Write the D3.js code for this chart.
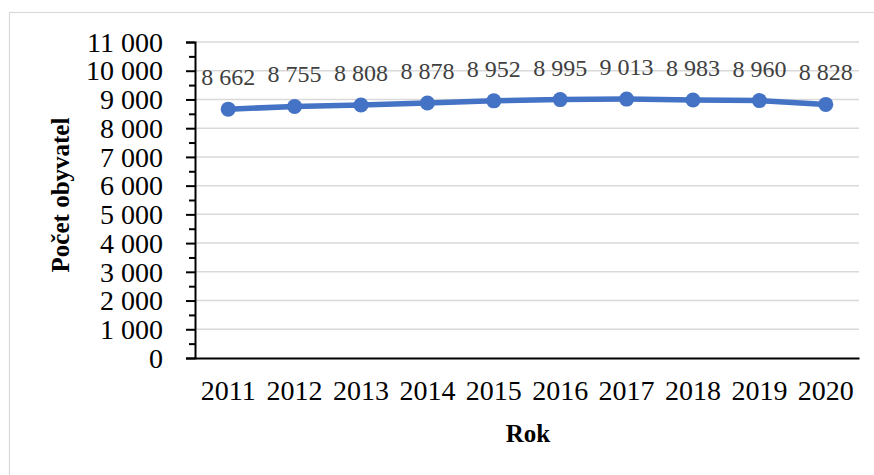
<!DOCTYPE html>
<html><head><meta charset="utf-8">
<script src="https://cdn.jsdelivr.net/npm/d3@7"></script>
<style>body{margin:0;background:#fff} text{font-family:"Liberation Serif","Times New Roman",serif}</style>
</head><body>
<svg id="c" width="874" height="475"></svg>
<script>
const years = ["2011","2012","2013","2014","2015","2016","2017","2018","2019","2020"];
const population = [8662, 8755, 8808, 8878, 8952, 8995, 9013, 8983, 8960, 8828];
const yTicks = [0,1000,2000,3000,4000,5000,6000,7000,8000,9000,10000,11000];
const yMinorTicks = d3.range(500, 11000, 1000);

const svg = d3.select("#c");
const fmt = v => d3.format(",")(v).replace(/,/g, " ");
const m = {l:195, r:859, t:42, b:358};
const x = d3.scaleBand().domain(years).range([m.l, m.r]);
const y = d3.scaleLinear().domain([0, 11000]).range([m.b, m.t]);
const serif = "Liberation Serif";

// chart border
svg.append("rect").attr("x",9.5).attr("y",12.5).attr("width",900).attr("height",500)
  .attr("fill","none").attr("stroke","#d9d9d9").attr("stroke-width",1.2);

// gridlines
svg.append("g").selectAll("line").data(yTicks.filter(d=>d>0)).join("line")
  .attr("x1",m.l).attr("x2",m.r).attr("y1",d=>y(d)).attr("y2",d=>y(d))
  .attr("stroke","#d9d9d9").attr("stroke-width",1.5);

// y axis
const ya = svg.append("g").attr("transform",`translate(${m.l},0)`)
  .call(d3.axisLeft(y).tickValues(yTicks).tickFormat(fmt).tickSize(9).tickPadding(23))
  .attr("font-family", serif).attr("font-size", 28);
ya.select(".domain").attr("stroke","#000").attr("stroke-width",2);
ya.selectAll(".tick line").attr("stroke","#000").attr("stroke-width",2);
ya.selectAll("text").attr("fill","#000").attr("dy","0.33em");
svg.append("g").attr("transform",`translate(${m.l},0)`)
  .call(d3.axisLeft(y).tickValues(yMinorTicks).tickFormat("").tickSize(6))
  .call(g=>g.select(".domain").remove())
  .selectAll("line").attr("stroke","#000").attr("stroke-width",2);

// x axis
const xa = svg.append("g").attr("transform",`translate(0,${m.b})`)
  .call(d3.axisBottom(x).tickSize(0).tickPadding(22))
  .attr("font-family", serif).attr("font-size", 28);
xa.select(".domain").attr("stroke","#000").attr("stroke-width",2);
xa.selectAll("text").attr("fill","#000");

// line
const cx = d => x(d) + x.bandwidth()/2;
svg.append("path").datum(population)
  .attr("d", d3.line().x((d,i)=>cx(years[i])).y(d=>y(d)))
  .attr("fill","none").attr("stroke","#4472C4").attr("stroke-width",5.5).attr("stroke-linejoin","round");
svg.append("g").selectAll("circle").data(population).join("circle")
  .attr("cx",(d,i)=>cx(years[i])).attr("cy",d=>y(d)).attr("r",7.5).attr("fill","#4472C4");

// data labels
svg.append("g").attr("font-family", serif).attr("font-size",24)
  .selectAll("text").data(population).join("text")
  .attr("x",(d,i)=>cx(years[i])).attr("y",d=>y(d)-24)
  .attr("text-anchor","middle").attr("fill","#404040").text(fmt);

// axis titles
svg.append("text").attr("x",528).attr("y",442).attr("text-anchor","middle")
  .attr("font-family",serif).attr("font-weight","bold").attr("font-size",25).text("Rok");
svg.append("text").attr("transform","translate(69,195) rotate(-90)").attr("text-anchor","middle")
  .attr("font-family",serif).attr("font-weight","bold").attr("font-size",25).text("Počet obyvatel");
</script>
</body></html>
